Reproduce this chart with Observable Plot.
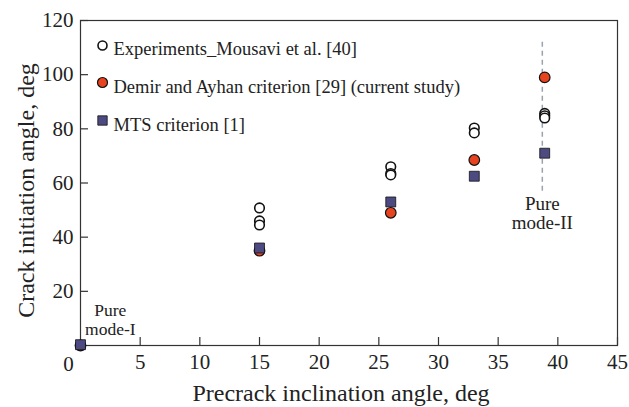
<!DOCTYPE html>
<html>
<head>
<meta charset="utf-8">
<script src="https://cdn.jsdelivr.net/npm/d3@7"></script>
<script src="https://cdn.jsdelivr.net/npm/@observablehq/plot@0.6"></script>
<style>
  body { margin: 0; background: #fff; }
  svg { font-family: "Liberation Serif", "DejaVu Serif", serif; }
</style>
</head>
<body>
<div id="chart"></div>
<script>
// Experiments (Mousavi et al.)
const expX = [0, 15, 15, 15, 26, 26, 26, 33, 33, 38.9, 38.9, 38.9];
const expY = [0, 50.8, 46, 44.5, 66, 63.5, 63, 80.3, 78.5, 85.7, 84.8, 84];
// Demir and Ayhan criterion (current study)
const demX = [0, 15, 26, 33, 38.9];
const demY = [0, 35, 49, 68.5, 99];
// MTS criterion
const mtsX = [0, 15, 26, 33, 38.9];
const mtsY = [0.3, 36, 53, 62.5, 71];

const xTicks = [5, 10, 15, 20, 25, 30, 35, 40, 45];
const yTicks = [20, 40, 60, 80, 100, 120];

const legendLabels = [
  "Experiments_Mousavi et al. [40]",
  "Demir and Ayhan criterion [29] (current study)",
  "MTS criterion [1]"
];
const xLabel = "Precrack inclination angle, deg";
const yLabel = "Crack initiation angle, deg";

const modeIILine = {x: 38.7, y1: 57, y2: 113};
const modeIText = ["Pure", "mode-I"];
const modeIIText = ["Pure", "mode-II"];
const modeIPos = {x: 2.5, y: 0};
const modeIIPos = {x: 38.7, y: 57};

const exp = expX.map((x, i) => ({x, y: expY[i]}));
const dem = demX.map((x, i) => ({x, y: demY[i]}));
const mts = mtsX.map((x, i) => ({x, y: mtsY[i]}));

const RED = "#e8431f", PURPLE = "#4d4a82", INK = "#111", TXT = "#222";

const chart = Plot.plot({
  width: 629,
  height: 407,
  marginLeft: 80,
  marginRight: 12,
  marginTop: 20,
  marginBottom: 62,
  style: {fontFamily: "Liberation Serif, serif", color: TXT, background: "#fff"},
  x: {domain: [0, 45]},
  y: {domain: [0, 120]},
  marks: [
    Plot.frame({stroke: "#333", strokeWidth: 1.2}),
    // inward ticks
    Plot.axisX(xTicks, {tickSize: -8, text: null, stroke: "#333", strokeWidth: 1.2, label: null}),
    Plot.axisY(yTicks, {tickSize: -8, text: null, stroke: "#333", strokeWidth: 1.2, label: null}),
    // tick labels
    Plot.axisX(xTicks, {tickSize: 0, tickPadding: 9, fontSize: 21, fill: TXT, label: null}),
    Plot.axisY(yTicks, {tickSize: 0, tickPadding: 7, fontSize: 21, fill: TXT, label: null}),
    Plot.text([0], {x: 0, y: 0, text: () => "0", dx: -12, dy: 19, fontSize: 21, fill: TXT}),
    // axis titles
    Plot.text([xLabel], {frameAnchor: "bottom", text: d => d, dx: -8, dy: 48, fontSize: 24, fill: TXT, lineAnchor: "middle", textAnchor: "middle"}),
    Plot.text([yLabel], {frameAnchor: "left", text: d => d, rotate: -90, dx: -54, dy: 7.5, fontSize: 24, fill: TXT, lineAnchor: "middle", textAnchor: "middle"}),
    // dashed pure mode-II line
    Plot.ruleX([modeIILine], {x: "x", y1: "y1", y2: "y2", stroke: "#9aa3ad", strokeWidth: 1.5, strokeDasharray: "5,4"}),
    // annotations
    Plot.text([modeIPos], {x: "x", y: "y", text: () => modeIText[0], dy: -35, fontSize: 17.5, fill: TXT}),
    Plot.text([modeIPos], {x: "x", y: "y", text: () => modeIText[1], dy: -16.5, fontSize: 17.5, fill: TXT}),
    Plot.text([modeIIPos], {x: "x", y: "y", text: () => modeIIText[0], dy: 12.5, fontSize: 19, fill: TXT}),
    Plot.text([modeIIPos], {x: "x", y: "y", text: () => modeIIText[1], dy: 31.5, fontSize: 19, fill: TXT}),
    // data
    Plot.dot(exp, {x: "x", y: "y", r: 4.8, fill: "#fff", stroke: INK, strokeWidth: 1.6}),
    Plot.dot(dem, {x: "x", y: "y", r: 5.3, fill: RED, stroke: INK, strokeWidth: 1.2}),
    Plot.dot(mts, {x: "x", y: "y", r: 5.6, symbol: "square", fill: PURPLE, stroke: INK, strokeWidth: 0.8}),
    // legend
    Plot.dot([0], {frameAnchor: "top-left", dx: 22, dy: 25, r: 4.5, fill: "#fff", stroke: INK, strokeWidth: 1.6}),
    Plot.dot([0], {frameAnchor: "top-left", dx: 22, dy: 62, r: 5, fill: RED, stroke: INK, strokeWidth: 1.2}),
    Plot.dot([0], {frameAnchor: "top-left", dx: 22, dy: 100, r: 5.3, symbol: "square", fill: PURPLE, stroke: INK, strokeWidth: 0.8}),
    Plot.text([legendLabels[0]], {frameAnchor: "top-left", text: d => d, dx: 33, dy: 28.5, fontSize: 18.5, fill: TXT, textAnchor: "start", lineAnchor: "middle"}),
    Plot.text([legendLabels[1]], {frameAnchor: "top-left", text: d => d, dx: 33, dy: 67, fontSize: 18.5, fill: TXT, textAnchor: "start", lineAnchor: "middle"}),
    Plot.text([legendLabels[2]], {frameAnchor: "top-left", text: d => d, dx: 33, dy: 104.5, fontSize: 18.5, fill: TXT, textAnchor: "start", lineAnchor: "middle"})
  ]
});
document.getElementById("chart").appendChild(chart);
</script>
</body>
</html>
